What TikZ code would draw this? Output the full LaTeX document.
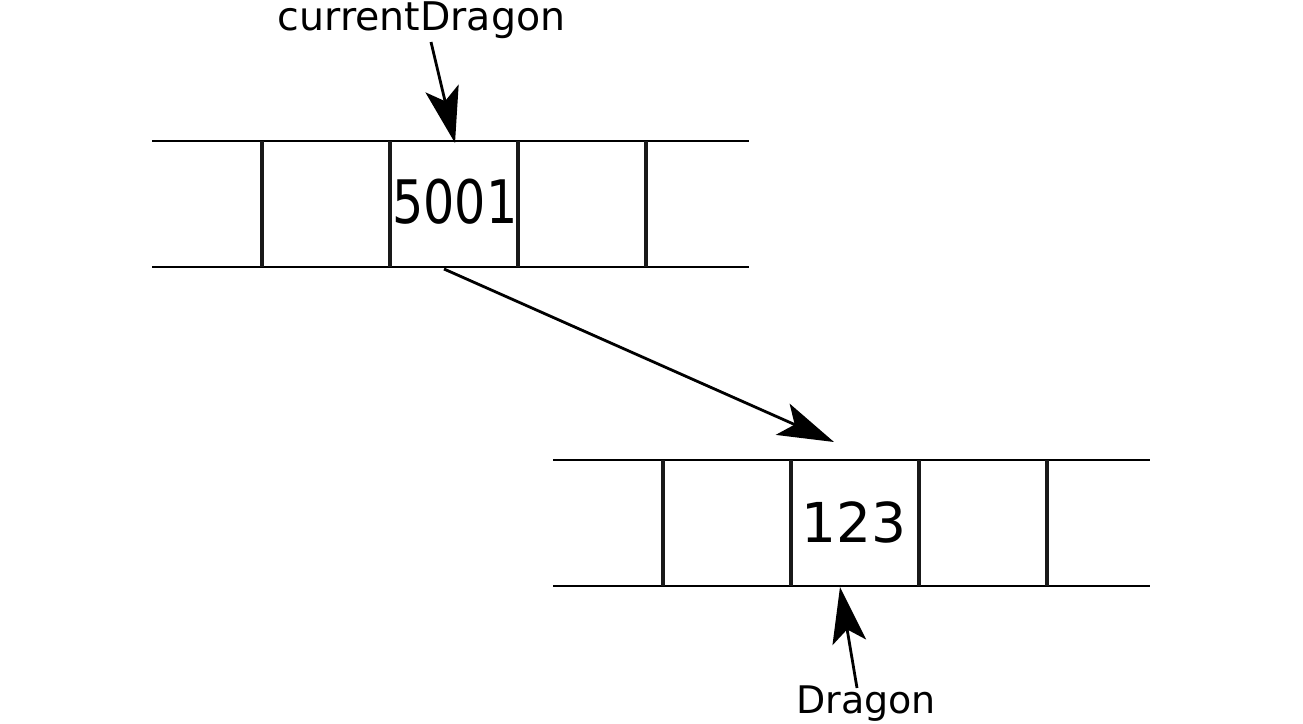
\documentclass[tikz,border=0pt]{standalone}
\usepackage{fontspec}
\setmainfont{DejaVu Sans}
\usetikzlibrary{arrows.meta}
\begin{document}
\begin{tikzpicture}[x=1pt,y=-1pt,
 rowline/.style={line width=2.2pt, black},
 sepline/.style={line width=3.4pt, black!90},
 ptr/.style={line width=2.8pt, -{Stealth[length=56pt,width=34pt,inset=13pt]}},
 lbl/.style={inner sep=0pt, anchor=base},
 val/.style={inner sep=0pt}]
\useasboundingbox (0,0) rectangle (1303,723);
% top row
\draw[rowline] (152,141) -- (749,141);
\draw[rowline] (152,267) -- (749,267);
\foreach \x in {262,390,518,646} \draw[sepline] (\x,141) -- (\x,267);
\node[val] (v1) at (455,202) {\scalebox{0.82}[1]{\fontsize{60}{60}\selectfont 5001}};
% bottom row
\draw[rowline] (553,460) -- (1150,460);
\draw[rowline] (553,586) -- (1150,586);
\foreach \x in {663,791,919,1047} \draw[sepline] (\x,460) -- (\x,586);
\node[val] (v2) at (854,522) {\fontsize{55}{60}\selectfont 123};
% labels
\node[lbl, font=\fontsize{39.5}{44}\selectfont] (cd) at (421.5,30) {currentDragon};
\node[lbl, font=\fontsize{38}{44}\selectfont] (dr) at (866,713) {Dragon};
% pointers
\coordinate (cds) at (431,42);
\coordinate (c1top) at (455,143);
\coordinate (c1bot) at (444,269);
\coordinate (c2tgt) at (834,442);
\coordinate (drs) at (857,688);
\coordinate (c2bot) at (840,587);
\draw[ptr] (cds) -- (c1top);
\draw[ptr] (c1bot) -- (c2tgt);
\draw[ptr] (drs) -- (c2bot);
\end{tikzpicture}
\end{document}
